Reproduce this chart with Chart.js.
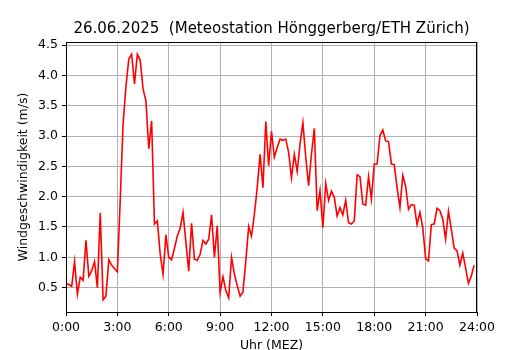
<!DOCTYPE html>
<html>
<head>
<meta charset="utf-8">
<script src="https://cdn.jsdelivr.net/npm/chart.js@4/dist/chart.umd.min.js"></script>
<style>
  html, body { margin: 0; padding: 0; background: #fff; }
  #wrap { width: 530px; height: 350px; }
</style>
</head>
<body>
<div id="wrap"><canvas id="wind"></canvas></div>
<script>
// Windgeschwindigkeit in m/s, 10-Minuten-Werte ab 0:00
const windWerte = [
    0.57, 0.55, 0.52, 0.93, 0.39, 0.67, 0.62, 1.28, 0.69, 0.78, 0.93, 0.50,
    1.73, 0.30, 0.36, 0.96, 0.87, 0.81, 0.76, 1.95, 3.20, 3.82, 4.27, 4.35,
    3.86, 4.35, 4.25, 3.78, 3.58, 2.79, 3.25, 1.55, 1.60, 1.05, 0.72, 1.37,
    1.00, 0.96, 1.15, 1.35, 1.48, 1.74, 1.25, 0.77, 1.56, 0.97, 0.95, 1.05,
    1.28, 1.22, 1.30, 1.70, 1.00, 1.52, 0.42, 0.68, 0.45, 0.33, 1.00, 0.72,
    0.53, 0.36, 0.43, 0.94, 1.51, 1.35, 1.71, 2.15, 2.70, 2.15, 3.24, 2.51,
    3.08, 2.65, 2.81, 2.95, 2.93, 2.95, 2.73, 2.31, 2.70, 2.42, 2.87, 3.22,
    2.65, 2.18, 2.70, 3.13, 1.77, 2.10, 1.49, 2.22, 1.94, 2.09, 1.99, 1.68,
    1.82, 1.70, 1.94, 1.57, 1.55, 1.60, 2.36, 2.33, 1.88, 1.86, 2.33, 1.96,
    2.54, 2.54, 3.01, 3.10, 2.92, 2.91, 2.54, 2.53, 2.15, 1.82, 2.35, 2.17,
    1.79, 1.87, 1.86, 1.54, 1.74, 1.49, 0.98, 0.94, 1.54, 1.55, 1.81, 1.77,
    1.63, 1.30, 1.76, 1.46, 1.15, 1.11, 0.87, 1.07, 0.83, 0.57, 0.69, 0.87
];
const intervallMinuten = 10;
const xTicks = [0, 3, 6, 9, 12, 15, 18, 21, 24];
const yTicks = [0.5, 1.0, 1.5, 2.0, 2.5, 3.0, 3.5, 4.0, 4.5];
const titel = '26.06.2025  (Meteostation Hönggerberg/ETH Zürich)';

const punkte = windWerte.map((v, i) => ({ x: i * intervallMinuten / 60, y: v }));

const schrift = 'DejaVu Sans';

// Rahmen um die Zeichenfläche und Titel über der Achse zentriert
const rahmen = {
    id: 'rahmen',
    afterDraw(chart) {
        const a = chart.chartArea;
        const ctx = chart.ctx;
        ctx.save();
        ctx.strokeStyle = '#000';
        ctx.lineWidth = 1;
        ctx.strokeRect(Math.round(a.left) + 0.5, Math.round(a.top) + 0.5,
            Math.round(a.right - a.left) - 1, Math.round(a.bottom - a.top));
        ctx.fillStyle = '#000';
        ctx.font = '15px "' + schrift + '"';
        ctx.textAlign = 'center';
        ctx.textBaseline = 'middle';
        ctx.fillText(titel, (a.left + a.right) / 2, 29);
        ctx.restore();
    }
};

new Chart(document.getElementById('wind'), {
    type: 'line',
    data: {
        datasets: [{
            data: punkte,
            borderColor: '#ff0000',
            borderWidth: 1.6,
            pointRadius: 0,
            tension: 0,
            fill: false
        }]
    },
    options: {
        responsive: true,
        maintainAspectRatio: false,
        animation: false,
        layout: { padding: { left: 0, right: 53, top: 42, bottom: 0 } },
        plugins: {
            legend: { display: false },
            tooltip: { enabled: false },
            title: { display: false }
        },
        scales: {
            x: {
                type: 'linear',
                min: 0,
                max: 24,
                afterBuildTicks: (scale) => { scale.ticks = xTicks.map(v => ({ value: v })); },
                afterFit: (scale) => { scale.height = 38; },
                ticks: {
                    color: '#000',
                    font: { family: schrift, size: 12.5 },
                    padding: 4,
                    maxRotation: 0,
                    callback: (v) => v + ':00'
                },
                grid: { color: '#b0b0b0', lineWidth: 1, tickColor: '#000', tickLength: 4 },
                border: { color: '#000', width: 1 },
                title: {
                    display: true,
                    text: 'Uhr (MEZ)',
                    color: '#000',
                    font: { family: schrift, size: 12.5, lineHeight: 1.0 },
                    padding: { top: 0, bottom: -1.5 }
                }
            },
            y: {
                min: 0.0975,
                max: 4.5525,
                afterBuildTicks: (scale) => { scale.ticks = yTicks.map(v => ({ value: v })); },
                afterFit: (scale) => { scale.width = 66; },
                ticks: {
                    color: '#000',
                    font: { family: schrift, size: 12.5 },
                    padding: 4,
                    callback: (v) => v.toFixed(1)
                },
                grid: { color: '#b0b0b0', lineWidth: 1, tickColor: '#000', tickLength: 4 },
                border: { color: '#000', width: 1 },
                title: {
                    display: true,
                    text: 'Windgeschwindigkeit (m/s)',
                    color: '#000',
                    font: { family: schrift, size: 12.5 },
                    padding: { top: 16, bottom: 0 }
                }
            }
        }
    },
    plugins: [rahmen]
});
</script>
</body>
</html>
